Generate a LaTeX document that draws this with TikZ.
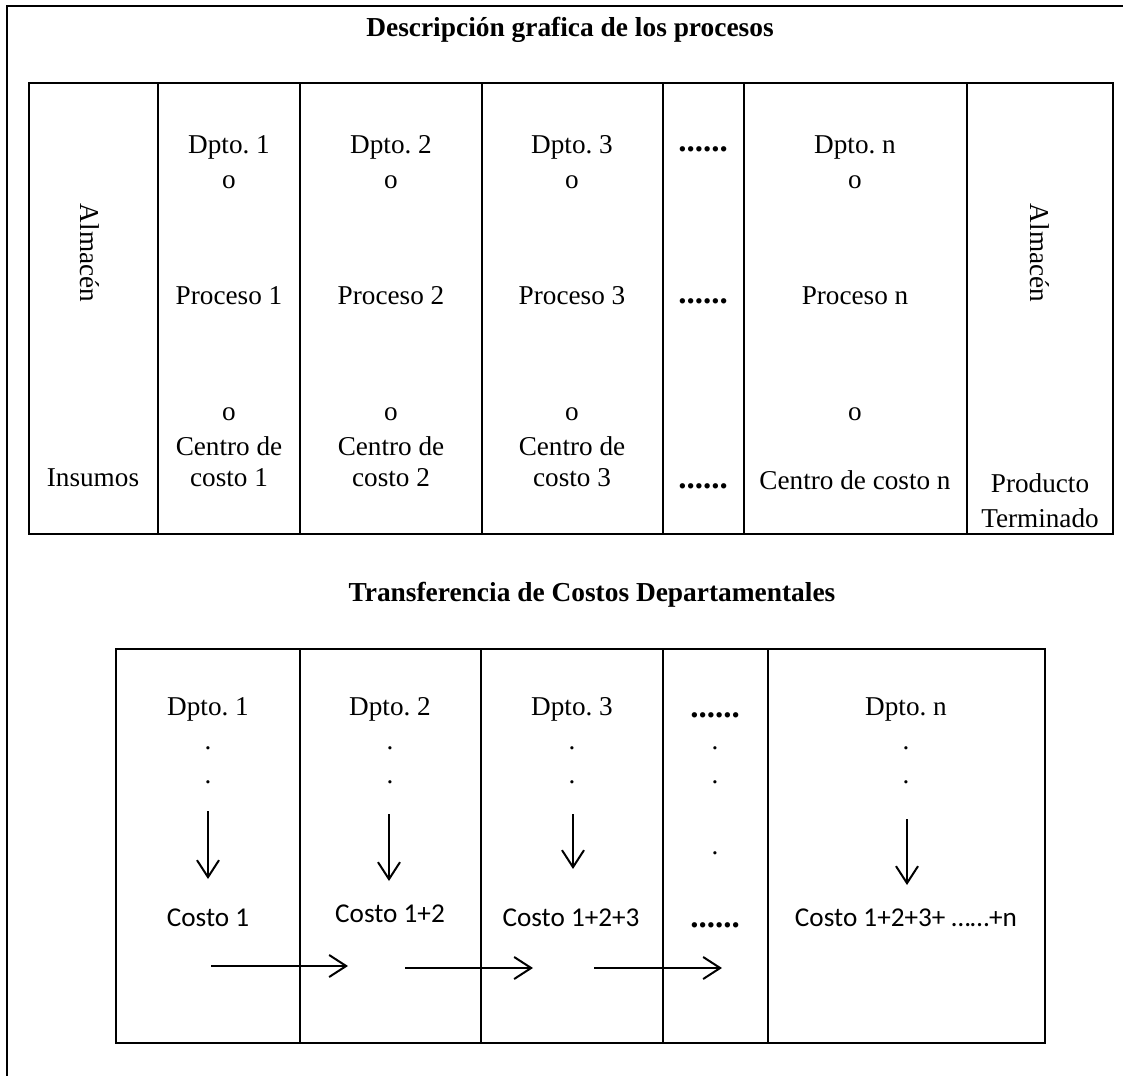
\documentclass[tikz,border=0pt]{standalone}
\usepackage{fontspec}
\setmainfont{Liberation Serif}
\newfontfamily\costofont{Carlito}
\usetikzlibrary{arrows.meta}
\tikzset{
  linea/.style={line width=1.3pt},
  flecha/.style={line width=1pt,-{Straight Barb[length=8.5pt,width=11pt]}},
  txt/.style={font=\fontsize{13.6}{16}\selectfont,inner sep=0pt,anchor=base},
  titulo/.style={txt,font=\bfseries\fontsize{13.7}{16}\selectfont},
  puntos/.style={txt,font=\bfseries\fontsize{16.5}{18}\selectfont},
  costo/.style={txt,font=\costofont\fontsize{13.6}{16}\selectfont},
}
\frenchspacing
\begin{document}
\begin{tikzpicture}[x=0.5pt,y=-0.5pt]
\useasboundingbox (0,0) rectangle (1125,1076);
% marco
\draw[linea] (7,1076) -- (7,6) -- (1123,6);
\node[titulo] (tit1) at (570,36) {Descripción grafica de los procesos};
% tabla de procesos
\draw[linea] (29,83) rectangle (1113,534);
\draw[linea] (158,83) -- (158,534) (300,83) -- (300,534) (482,83) -- (482,534)
  (663,83) -- (663,534) (744,83) -- (744,534) (967,83) -- (967,534);
\node[txt,anchor=center,rotate=-90] (alm1) at (90,253) {Almacén};
\node[txt] (ins) at (93,486) {Insumos};
\node[txt] (dp1) at (229,153) {Dpto. 1};
\node[txt] (oa1) at (229,188) {o};
\node[txt] (pr1) at (229,304) {Proceso 1};
\node[txt] (ob1) at (229,420) {o};
\node[txt] (cc1) at (229,455) {Centro de};
\node[txt] (co1) at (229,486) {costo 1};
\node[txt] (dp2) at (391,153) {Dpto. 2};
\node[txt] (oa2) at (391,188) {o};
\node[txt] (pr2) at (391,304) {Proceso 2};
\node[txt] (ob2) at (391,420) {o};
\node[txt] (cc2) at (391,455) {Centro de};
\node[txt] (co2) at (391,486) {costo 2};
\node[txt] (dp3) at (572,153) {Dpto. 3};
\node[txt] (oa3) at (572,188) {o};
\node[txt] (pr3) at (572,304) {Proceso 3};
\node[txt] (ob3) at (572,420) {o};
\node[txt] (cc3) at (572,455) {Centro de};
\node[txt] (co3) at (572,486) {costo 3};
\node[puntos] (pa) at (703,151) {......};
\node[puntos] (pb) at (703,303) {......};
\node[puntos] (pc) at (703,488) {......};
\node[txt] (dpn) at (855,153) {Dpto. n};
\node[txt] (oan) at (855,188) {o};
\node[txt] (prn) at (855,304) {Proceso n};
\node[txt] (obn) at (855,420) {o};
\node[txt] (ccn) at (855,489) {Centro de costo n};
\node[txt,anchor=center,rotate=-90] (alm2) at (1040,253) {Almacén};
\node[txt] (prod) at (1040,492) {Producto};
\node[txt] (term) at (1040,527) {Terminado};
% transferencia
\node[titulo] (tit2) at (592,601) {Transferencia de Costos Departamentales};
\draw[linea] (116,649) rectangle (1045,1043);
\draw[linea] (300,649) -- (300,1043) (481,649) -- (481,1043)
  (663,649) -- (663,1043) (768,649) -- (768,1043);
\node[txt] (td1) at (208,715) {Dpto. 1};
\node[txt] (td2) at (390,715) {Dpto. 2};
\node[txt] (td3) at (572,715) {Dpto. 3};
\node[puntos] (tdp) at (715,717) {......};
\node[txt] (tdn) at (906,715) {Dpto. n};
\node[txt] at (208,749) {.}; \node[txt] at (208,783) {.};
\node[txt] at (390,749) {.}; \node[txt] at (390,783) {.};
\node[txt] at (572,749) {.}; \node[txt] at (572,783) {.};
\node[txt] at (715,749) {.}; \node[txt] at (715,783) {.};
\node[txt] at (715,854) {.};
\node[txt] at (906,749) {.}; \node[txt] at (906,783) {.};
\coordinate (a1) at (208,811); \coordinate (b1) at (208,879);
\coordinate (a2) at (389,814); \coordinate (b2) at (389,881);
\coordinate (a3) at (573,814); \coordinate (b3) at (573,869);
\coordinate (an) at (907,819); \coordinate (bn) at (907,885);
\draw[flecha] (a1) -- (b1);
\draw[flecha] (a2) -- (b2);
\draw[flecha] (a3) -- (b3);
\draw[flecha] (an) -- (bn);
\node[costo] (c1) at (208,926) {Costo 1};
\node[costo] (c2) at (390,922) {Costo 1+2};
\node[costo] (c3) at (571,926) {Costo 1+2+3};
\node[puntos] (cp) at (715,927) {......};
\node[costo] (cn) at (906,926) {Costo 1+2+3+ ……+n};
\coordinate (h1) at (211,966); \coordinate (k1) at (348,966);
\coordinate (h2) at (405,968); \coordinate (k2) at (533,968);
\coordinate (h3) at (594,968); \coordinate (k3) at (722,968);
\draw[flecha] (h1) -- (k1);
\draw[flecha] (h2) -- (k2);
\draw[flecha] (h3) -- (k3);
\end{tikzpicture}
\end{document}
